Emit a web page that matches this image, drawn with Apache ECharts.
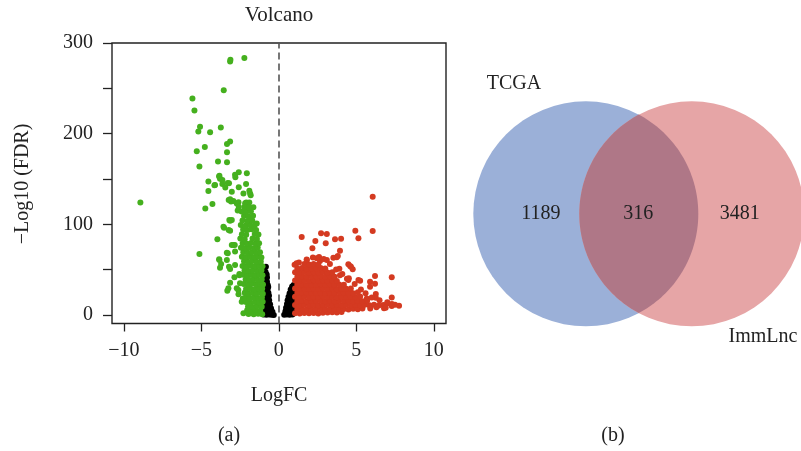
<!DOCTYPE html>
<html>
<head>
<meta charset="utf-8">
<title>Volcano plot and Venn diagram</title>
<script src="https://cdn.jsdelivr.net/npm/echarts@6/dist/echarts.min.js"></script>
<style>
  html, body { margin: 0; padding: 0; background: #ffffff; }
  #chart { width: 801px; height: 451px; }
</style>
</head>
<body>
<div id="chart"></div>
<script>
// ---------- Volcano plot data: [logFC, -log10(FDR)] ----------
const downGenes = [
  // scattered down-regulated genes
  [-2.22,283.4],[-3.14,279.7],[-3.12,281.5],[-3.55,248],[-5.57,238.8],[-5.44,225.6],[-5.08,207.6],[-5.19,202.4],
  [-4.43,201.7],[-3.74,206.8],[-3.14,191.3],[-3.34,188.5],[-4.77,185.2],[-5.29,180.7],[-3.34,179.6],[-3.92,169.3],
  [-3.34,168.6],[-5.12,163.7],[-2.06,156.4],[-2.58,157.5],[-2.82,154.6],[-2.80,152],[-3.85,152.7],[-3.79,150.2],
  [-4.54,147.2],[-2.11,144.6],[-3.21,145.4],[-3.64,144.6],[-4.11,143.5],[-3.45,140.6],[-2.58,141],[-4.54,136.9],
  [-1.90,137.2],[-1.81,132.2],[-8.93,124],[-3.23,127],[-3.08,125.1],[-2.60,124.4],[-4.28,122.6],[-2.1,124],
  [-1.9,124],[-4.74,117.4],[-2.65,115.2],[-3.14,104.1],[-3.53,96.4],[-3.23,93.8],[-3.96,83.6],[-2.84,77.3],
  [-5.12,67.3],[-3.29,68.1],[-3.85,61.5],[-3.72,56.3],[-3.79,52.2],[-3.21,53.3],[-2.54,43.8],[-3.14,35.7],
  [-3.32,26.8],[-2.61,27.6],[-2.32,18.4],[-1.70,2.5],[-3.83,153.5],[-3.64,149],[-3.29,145.7],[-4.15,143.2],
  [-2.93,125.9],[-3.14,127.7],[-2.17,123.3],[-3.57,97.5],[-3.19,104.9],[-3.14,93],[-2.93,77.3],[-3.35,68.8],
  [-3.35,60.7],[-3.83,60.7],[-2.54,45.3],[-2.86,41.6],[-3.14,50.8],[-2.82,55.2],[-3.25,29.5],[-2.71,29.5],
  [-2.5,35],[-2.6,22.9],[-2.39,14.7],[-2.28,1.9],[-3.03,136],[-2.28,134],[-1.85,134],[-2.71,123],
  [-2.17,119],[-1.64,119],[-3.03,104.9],[-1.42,101],[-3.03,77.3],[-2.82,70],
  // dense band
  [-1.95,1.2],[-1.62,0.8],[-1.33,1.5],[-1.07,1.0],
  [-2.04,5.2],[-1.78,4.6],[-1.5,5.5],[-1.2,4.8],
  [-1.98,9.4],[-1.69,9.0],[-1.41,9.8],[-1.1,9.2],
  [-2.12,14.3],[-1.83,13.6],[-1.55,14.5],[-1.26,13.9],[-1.04,14.6],
  [-2.16,19.2],[-1.9,18.6],[-1.62,19.5],[-1.34,18.8],[-1.09,19.4],
  [-2.2,24.5],[-1.95,23.6],[-1.68,24.2],[-1.44,23.8],[-1.19,24.6],[-1.03,23.5],
  [-2.11,28.8],[-1.84,29.4],[-1.56,28.6],[-1.3,29.2],[-1.07,28.9],
  [-2.26,34.2],[-1.98,33.6],[-1.71,34.5],[-1.45,33.8],[-1.2,34.3],[-1.02,33.7],
  [-2.14,39.3],[-1.88,38.7],[-1.6,39.5],[-1.35,38.9],[-1.1,39.2],
  [-2.3,44.4],[-2.04,43.7],[-1.76,44.2],[-1.5,43.8],[-1.24,44.6],[-1.05,43.9],
  [-2.21,49.1],[-1.94,48.6],[-1.66,49.4],[-1.39,48.8],[-1.12,49.3],
  [-2.34,54.2],[-2.08,53.6],[-1.8,54.4],[-1.52,53.8],[-1.26,54.5],[-1.05,53.9],
  [-2.24,59.3],[-1.99,58.7],[-1.7,59.5],[-1.44,58.9],[-1.16,59.2],
  [-2.38,64.4],[-2.1,63.7],[-1.84,64.2],[-1.56,63.8],[-1.3,64.6],[-1.12,63.5],
  [-2.29,69.2],[-2.01,68.6],[-1.74,69.4],[-1.46,68.8],[-1.21,69.3],
  [-2.44,74.1],[-2.16,73.6],[-1.9,74.4],[-1.6,73.8],[-1.36,74.5],
  [-2.33,79.2],[-2.05,78.7],[-1.79,79.5],[-1.5,78.9],[-1.27,79.3],
  [-2.48,84.3],[-2.2,83.7],[-1.69,84.4],[-1.41,83.8],
  [-2.38,89.2],[-2.1,88.6],[-1.55,89.4],[-1.31,88.9],
  [-2.3,94.3],[-2.02,93.7],[-1.76,94.5],[-1.46,93.8],
  [-2.45,99.2],[-2.15,98.6],[-1.86,99.4],[-1.57,98.8],
  [-2.34,104.4],[-2.02,103.7],[-1.71,104.3],
  [-2.24,109.2],[-1.95,108.6],[-1.66,109.5],
  [-2.4,114.3],[-2.1,113.7],[-1.8,114.4],
  [-2.22,119.1],[-1.92,118.6],[-2.58,119.5]
];

const upGenes = [
  // scattered up-regulated genes
  [6.06,130.6],[6.06,92.7],[4.94,93.1],[5.14,84.7],[2.73,90.2],[3.10,89.4],[1.48,86.1],[2.36,81.7],
  [3.03,79.2],[3.63,83.6],[4.02,84.2],[2.17,73.6],[3.95,71],[3.52,63.3],[3.81,65.1],[4.49,56],
  [4.66,53.3],[3.91,51],[4.52,40.5],[5.89,36.8],[6.21,43.1],[7.29,41.6],[6.21,34.4],[5.89,31.3],
  [6.26,23.2],[6.26,19.1],[5.68,18.4],[7.29,19.5],[6.75,11],[7.03,12.9],[7.29,9.9],[7.76,10.3],
  [6.79,7.4],[5.25,37.9],[3.74,63.7],[4.6,54],[4.77,50.5],[2.66,59.6],[1.81,60.7],[2.45,62.6],
  [3.1,60.7],[3.95,44],[4.49,38.6],[5.14,38.6],
  // dense cloud
  [1.05,2.1],[1.35,1.8],[1.65,2.4],[1.95,1.9],[2.25,2.3],[2.55,1.7],[2.85,2.5],[3.15,2.9],[3.45,3.2],[3.75,2.8],[4.05,3.4],
  [1.2,6.4],[1.5,6.8],[1.8,6.2],[2.1,6.7],[2.4,6.3],[2.7,6.9],[3.0,6.5],[3.3,6.2],[3.6,6.8],[3.9,6.4],[4.2,6.6],[4.5,6.1],[4.8,6.9],[5.1,6.4],[5.4,7.2],
  [1.05,11.2],[1.35,10.8],[1.65,11.4],[1.95,10.9],[2.25,11.3],[2.55,10.7],[2.85,11.1],[3.15,11.5],[3.45,10.8],[3.75,11.2],[4.05,10.9],[4.35,11.4],[4.65,10.7],[4.95,11.2],[5.25,10.8],[5.55,11.3],[5.85,10.9],[6.15,11.5],[6.45,10.6],
  [1.2,15.3],[1.5,15.8],[1.8,15.2],[2.1,15.7],[2.4,15.4],[2.7,15.9],[3.0,15.3],[3.3,15.6],[3.6,15.2],[3.9,15.8],[4.2,15.4],[4.5,15.7],[4.8,15.1],[5.1,15.6],[5.4,15.3],[5.7,16.1],
  [1.05,20.2],[1.35,19.8],[1.65,20.4],[1.95,19.7],[2.25,20.3],[2.55,19.9],[2.85,20.5],[3.15,19.8],[3.45,20.2],[3.75,19.6],[4.05,20.4],[4.35,19.9],[4.65,20.3],[4.95,19.7],[5.25,20.6],
  [1.2,24.3],[1.5,24.8],[1.8,24.2],[2.1,24.7],[2.4,24.4],[2.7,24.9],[3.0,24.3],[3.3,24.6],[3.6,24.2],[3.9,24.8],[4.2,24.4],[4.5,24.7],[4.8,24.1],[5.1,25.2],
  [1.05,29.2],[1.35,28.8],[1.65,29.4],[1.95,28.7],[2.25,29.3],[2.55,28.9],[2.85,29.5],[3.15,28.8],[3.45,29.2],[3.75,28.6],[4.05,29.4],[4.35,28.9],[4.65,29.3],
  [1.2,33.3],[1.5,33.8],[1.8,33.2],[2.1,33.7],[2.4,33.4],[2.7,33.9],[3.0,33.3],[3.3,33.6],[3.6,33.2],[3.9,33.8],[4.2,33.4],
  [1.05,38.2],[1.35,37.8],[1.65,38.4],[1.95,37.7],[2.25,38.3],[2.55,37.9],[2.85,38.5],[3.15,37.8],[3.45,38.2],[3.75,37.6],
  [1.2,42.3],[1.5,42.8],[1.8,42.2],[2.1,42.7],[2.4,42.4],[2.7,42.9],[3.0,42.3],[3.3,42.6],[3.6,42.2],
  [1.05,47.2],[1.35,46.8],[1.65,47.4],[1.95,46.7],[2.25,47.3],[2.55,46.9],[2.85,47.5],[3.15,46.8],[3.45,47.2],
  [1.2,51.3],[1.5,51.8],[1.8,51.2],[2.1,51.7],[2.4,51.4],[2.7,51.9],[3.0,51.3],
  [1.65,56.2],[1.95,55.8],[2.25,56.4],[2.55,55.7],
  [1.3,58.1],[1.8,61.2],[2.2,63.4],[2.6,64.1],[2.9,61.8],[3.3,56.2],[3.7,50.3],[4.1,45.2],[4.4,40.1],
  [4.9,34.3],[5.3,28.2],[5.6,24.1],[6.0,19.3],[6.5,16.2],[7.0,14.1],[7.3,12.3],[6.9,8.1],[7.5,11.4],
  [6.3,8.6],[5.9,7.2],[1.02,55.4],[1.15,57.0]
];

const stableGenes = [
  [-0.98,0.5],[-0.8,0.4],[-0.62,0.6],[-0.46,0.3],[-0.32,0.2],
  [-0.9,4.1],[-0.72,3.8],[-0.55,4.3],[-0.41,3.6],
  [-0.97,8.2],[-0.8,7.8],[-0.63,8.4],[-0.5,7.6],
  [-0.9,12.1],[-0.73,12.4],[-0.56,11.8],
  [-0.98,16.2],[-0.81,15.8],[-0.62,16.4],
  [-0.9,20.3],[-0.74,19.8],[-0.63,21.2],
  [-0.97,24.2],[-0.83,23.8],[-0.67,24.5],
  [-0.9,28.1],[-0.73,28.6],[-0.68,31.0],
  [-0.98,32.2],[-0.84,31.8],[-0.71,33.1],
  [-0.91,36.2],[-0.76,36.8],
  [-0.98,40.1],[-0.84,39.7],[-0.76,41.5],
  [-0.91,44.2],[-0.78,44.6],
  [-0.97,48.1],[-0.85,47.6],
  [-0.92,51.8],[-0.83,53.2],
  [0.35,0.4],[0.52,0.6],[0.7,0.3],[0.88,0.5],
  [0.43,4.1],[0.6,3.7],[0.78,4.3],[0.95,3.8],
  [0.47,8.2],[0.64,7.8],[0.82,8.4],[0.98,8.0],
  [0.53,12.1],[0.7,12.5],[0.88,11.8],
  [0.57,16.2],[0.74,15.8],[0.92,16.4],
  [0.63,20.2],[0.8,19.7],[0.97,20.4],
  [0.7,24.1],[0.86,23.7],[0.98,25.0],
  [0.77,28.2],[0.93,27.8],
  [0.86,31.6],[0.96,33.2]
];

const xTicks = [-10, -5, 0, 5, 10];
const yTicks = [0, 50, 100, 150, 200, 250, 300];
const yTickLabels = [0, 100, 200, 300];

// ---------- Venn diagram data ----------
const vennSets = ['TCGA', 'ImmLnc'];
const vennCounts = [1189, 316, 3481]; // TCGA only, shared, ImmLnc only

// ---------- layout ----------
const FONT = 'Liberation Serif';
const INK = '#222222';
const VENN = {
  centerA: [0, 0], centerB: [0.942, 0], radius: 1,
  countPos: [[-0.40, 0], [0.467, 0], [1.368, 0]],
  colorA: '#9BB0D8', colorB: '#E6A5A6', colorAB: '#AF7787'
};

const minus = v => (v < 0 ? '\u2212' + Math.abs(v) : String(v));

function renderVenn(params, api) {
  const a = api.coord(VENN.centerA);
  const b = api.coord(VENN.centerB);
  const r = api.size([VENN.radius, 0])[0];
  const d = b[0] - a[0];
  const theta = Math.acos(d / 2 / r);
  const lens = [];
  const n = 80;
  for (let i = 0; i <= n; i++) {
    const t = -theta + 2 * theta * i / n;
    lens.push([a[0] + r * Math.cos(t), a[1] + r * Math.sin(t)]);
  }
  for (let i = 0; i <= n; i++) {
    const t = Math.PI - theta + 2 * theta * i / n;
    lens.push([b[0] + r * Math.cos(t), b[1] + r * Math.sin(t)]);
  }
  const children = [
    { type: 'circle', shape: { cx: a[0], cy: a[1], r: r }, style: { fill: VENN.colorA } },
    { type: 'circle', shape: { cx: b[0], cy: b[1], r: r }, style: { fill: VENN.colorB } },
    { type: 'polygon', shape: { points: lens }, style: { fill: VENN.colorAB } }
  ];
  vennCounts.forEach((c, i) => {
    const p = api.coord(VENN.countPos[i]);
    children.push({
      type: 'text', x: p[0], y: p[1],
      style: { text: String(c), fill: INK, font: '20px "' + FONT + '"', align: 'center', verticalAlign: 'middle' }
    });
  });
  return { type: 'group', children: children };
}

const chart = echarts.init(document.getElementById('chart'), null, { renderer: 'canvas' });

const textStyle = (extra) => Object.assign({ fill: INK, font: '20px "' + FONT + '"', align: 'center', verticalAlign: 'middle' }, extra || {});

const pointSeries = (name, data, color) => ({
  name: name, type: 'scatter', xAxisIndex: 0, yAxisIndex: 0,
  data: data, symbol: 'circle', symbolSize: 6, silent: true,
  itemStyle: { color: color, opacity: 1, borderWidth: 0 },
  emphasis: { disabled: true }
});

const upSeries = pointSeries('Up', upGenes, '#D43A21');
upSeries.markLine = {
  silent: true, symbol: 'none', label: { show: false },
  lineStyle: { color: '#555555', width: 1.6, type: [7, 4] },
  data: [{ xAxis: 0 }]
};

chart.setOption({
  backgroundColor: '#ffffff',
  animation: false,
  grid: [
    { left: 112, top: 43, width: 334, height: 280.5, show: true, borderColor: INK, borderWidth: 1.4, backgroundColor: 'transparent' },
    { left: 473.3, top: 101, width: 327.7, height: 225.7, show: false }
  ],
  xAxis: [
    {
      gridIndex: 0, type: 'value', min: -10.76, max: 10.79,
      axisLine: { show: false, onZero: false },
      splitLine: { show: false },
      axisTick: { show: true, length: 8, customValues: xTicks, lineStyle: { color: INK, width: 1.3 } },
      axisLabel: { customValues: xTicks, formatter: minus, fontFamily: FONT, fontSize: 20, color: INK, margin: 17 }
    },
    { gridIndex: 1, type: 'value', min: -1, max: 1.913, show: false }
  ],
  yAxis: [
    {
      gridIndex: 0, type: 'value', min: -9.3, max: 300,
      axisLine: { show: false, onZero: false },
      splitLine: { show: false },
      axisTick: { show: true, length: 9, customValues: yTicks, lineStyle: { color: INK, width: 1.3 } },
      axisLabel: { customValues: yTickLabels, fontFamily: FONT, fontSize: 20, color: INK, margin: 19 }
    },
    { gridIndex: 1, type: 'value', min: -1, max: 1, show: false }
  ],
  series: [
    pointSeries('Stable', stableGenes, '#000000'),
    pointSeries('Down', downGenes, '#45B01E'),
    upSeries,
    {
      name: 'Venn', type: 'custom', xAxisIndex: 1, yAxisIndex: 1,
      coordinateSystem: 'cartesian2d', clip: false, silent: true,
      data: [[0, 0]], renderItem: renderVenn
    }
  ],
  graphic: [
    { type: 'text', x: 279, y: 15, style: textStyle({ text: 'Volcano', font: '21px "' + FONT + '"' }) },
    { type: 'text', x: 23, y: 184, rotation: Math.PI / 2, style: textStyle({ text: '\u2212Log10 (FDR)' }) },
    { type: 'text', x: 279, y: 396, style: textStyle({ text: 'LogFC' }) },
    { type: 'text', x: 229, y: 436, style: textStyle({ text: '(a)' }) },
    { type: 'text', x: 613, y: 436, style: textStyle({ text: '(b)' }) },
    { type: 'text', x: 514, y: 84, style: textStyle({ text: vennSets[0] }) },
    { type: 'text', x: 763, y: 337, style: textStyle({ text: vennSets[1] }) }
  ]
});
</script>
</body>
</html>
